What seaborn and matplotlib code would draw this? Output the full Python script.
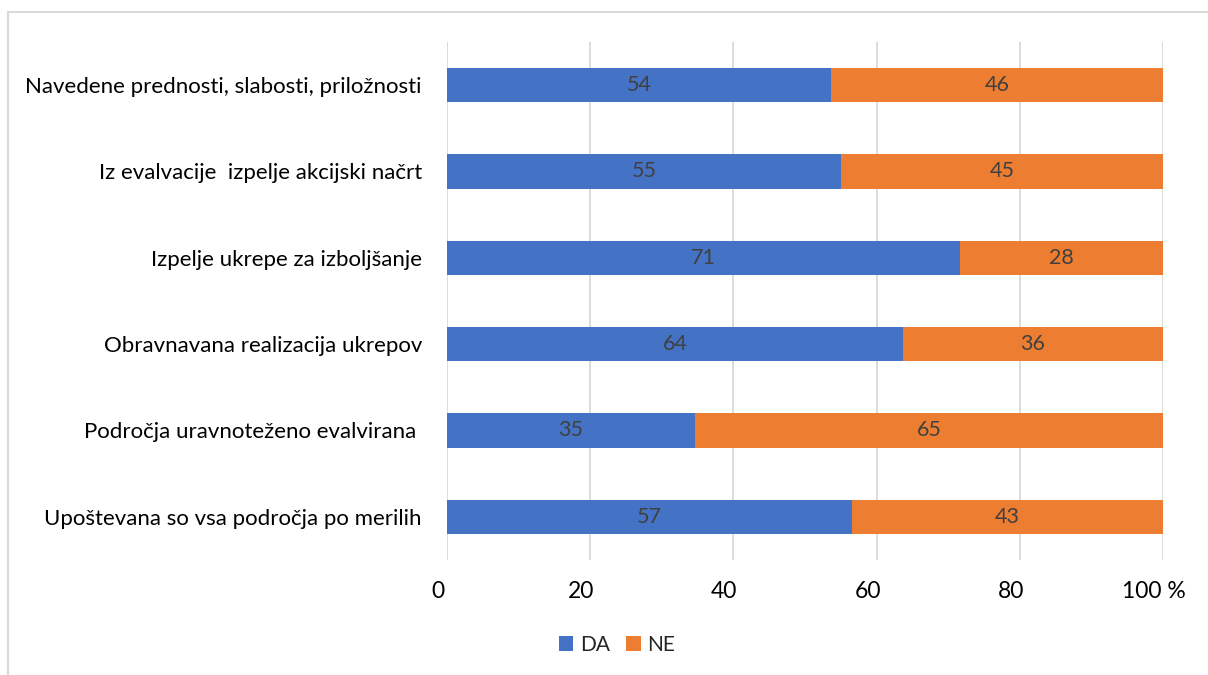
import numpy as np
import pandas as pd
import matplotlib
matplotlib.use("Agg")
import matplotlib.pyplot as plt
import matplotlib.transforms as mtransforms
from matplotlib.patches import Patch
from matplotlib.lines import Line2D
import seaborn as sns

categories = [
    "Navedene prednosti, slabosti, priložnosti",
    "Iz evalvacije  izpelje akcijski načrt",
    "Izpelje ukrepe za izboljšanje",
    "Obravnavana realizacija ukrepov",
    "Področja uravnoteženo evalvirana ",
    "Upoštevana so vsa področja po merilih",
]
da_values = [53.6, 55.0, 71.4, 63.7, 34.6, 56.6]
ne_values = [46.4, 45.0, 28.3, 36.3, 65.4, 43.4]
series_names = ["DA", "NE"]
x_ticks = [0, 20, 40, 60, 80, 100]
x_tick_labels = ["0", "20", "40", "60", "80", "100 %"]

BLUE = "#4472C4"
ORANGE = "#ED7D31"

sns.set_theme(style="white")
plt.rcParams["font.family"] = ["Lato", "DejaVu Sans"]

da = np.array(da_values, dtype=float)
ne = np.array(ne_values, dtype=float)
tot = da + ne
da_pct = da / tot * 100
df = pd.DataFrame({"cat": categories, "da_pct": da_pct, "total": np.full(len(categories), 100.0)})

fig = plt.figure(figsize=(12.08, 6.75), dpi=100)
ax = fig.add_axes([447 / 1208, 1 - 560 / 675, (1163 - 447) / 1208, (560 - 42) / 675])

sns.barplot(data=df, y="cat", x="total", orient="h", color=ORANGE, saturation=1,
            width=0.4, ax=ax, linewidth=0)
sns.barplot(data=df, y="cat", x="da_pct", orient="h", color=BLUE, saturation=1,
            width=0.4, ax=ax, linewidth=0)

for i in range(len(categories)):
    ax.text(da_pct[i] / 2, i, f"{da_values[i]:.0f}", ha="center", va="center",
            fontsize=15.5, color="#404040")
    ax.text(da_pct[i] + (100 - da_pct[i]) / 2, i, f"{ne_values[i]:.0f}", ha="center",
            va="center", fontsize=15.5, color="#404040")

ax.set_xlim(0, 100)
ax.set_ylim(len(categories) - 0.5, -0.5)
ax.set_xticks(x_ticks)
ax.set_xticklabels(x_tick_labels, fontsize=16.5, color="black")
ax.tick_params(axis="x", length=0, pad=15)
ax.tick_params(axis="y", length=0, pad=18, labelsize=16, labelcolor="black")
ax.set_xlabel("")
ax.set_ylabel("")
ax.xaxis.grid(True, color="#D9D9D9", linewidth=1.3)
ax.set_axisbelow(True)
for s in ax.spines.values():
    s.set_visible(False)

shift = mtransforms.ScaledTranslation(-9 / 100, 0, fig.dpi_scale_trans)
for lbl in ax.get_xticklabels():
    lbl.set_transform(lbl.get_transform() + shift)

handles = [Patch(facecolor=BLUE, edgecolor="none"), Patch(facecolor=ORANGE, edgecolor="none")]
fig.legend(handles, series_names, loc="center", bbox_to_anchor=(617 / 1208, 1 - 645 / 675),
           ncol=2, frameon=False, fontsize=15, handlelength=0.7, handleheight=0.7,
           handletextpad=0.3, columnspacing=0.8)

# outer chart border (light grey)
fig.add_artist(Line2D([8 / 1208, 8 / 1208], [0, 1 - 12 / 675], transform=fig.transFigure,
                      color="#D9D9D9", linewidth=1.5))
fig.add_artist(Line2D([8 / 1208, 1], [1 - 12 / 675, 1 - 12 / 675], transform=fig.transFigure,
                      color="#D9D9D9", linewidth=1.5))

fig.savefig("out.png", dpi=100, facecolor="white")
